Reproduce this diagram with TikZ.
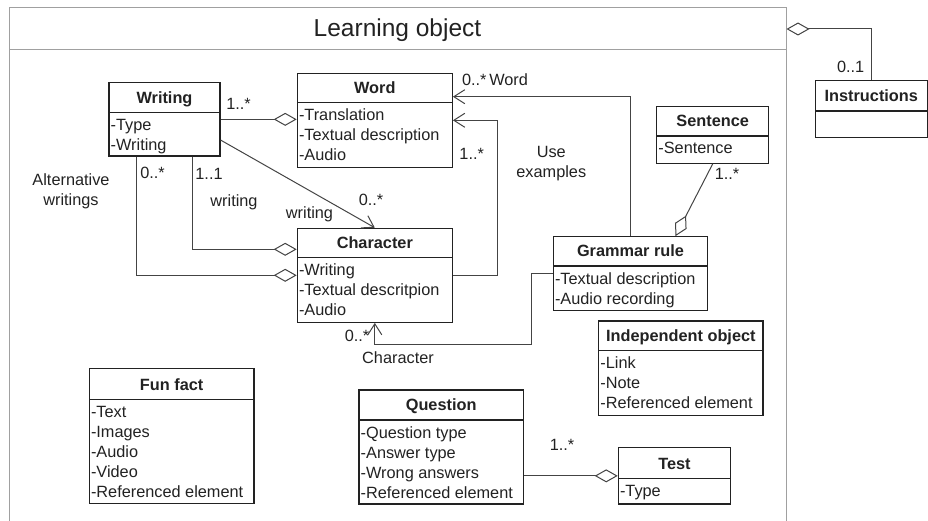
\documentclass[tikz,border=0pt]{standalone}
\usepackage{fontspec}
\setmainfont{Liberation Sans}
\usetikzlibrary{arrows.meta,fit,calc}
\definecolor{framec}{HTML}{A0A0A0}
\definecolor{boxc}{HTML}{222222}
\definecolor{connc}{HTML}{444444}
\newcommand\fs{\fontsize{16.3}{20}\selectfont}
\tikzset{
  clsbox/.style={draw=boxc, line width=1.2pt, inner sep=0pt, fill=white},
  clstitle/.style={font=\fs\bfseries, inner sep=0pt, anchor=base, text=boxc},
  attr/.style={font=\fs, inner sep=0pt, anchor=base west, text=boxc},
  lbl/.style={font=\fs, inner sep=0pt, text height=11.5pt, text depth=3.5pt, text=boxc},
  conn/.style={draw=connc, line width=1pt},
  assoc/.style={conn, -{Straight Barb[length=11pt,width=14pt,line width=1pt]}},
  agg/.style={conn, -{Diamond[length=23pt,width=13pt,fill=white,line width=1pt]}},
}
\newcommand\umlclass[8]{%
  \node[clsbox, fit={(#2,#3) (#4,#6)}] (#1) {};
  \draw[line width=1.2pt, boxc] (#2,#5) -- (#4,#5);
  \node[clstitle] (#1-title) at ({(#2+#4)/2},{#5-9.3}) {#7};
  \foreach \a [count=\i] in {#8} {\node[attr] (#1-a\i) at ({#2+1.5},{#5+18+20*(\i-1)}) {\a};}
}
\begin{document}
\begin{tikzpicture}[x=1pt,y=-1pt]
\useasboundingbox (0,0) rectangle (928,521);
% frame
\draw[framec, line width=1pt] (9,530) -- (9,8) -- (786,8) -- (786,530);
\node[draw=framec, line width=1pt, fit={(9,8) (786,50)}, inner sep=0pt] (lotitle) {};
\node[font=\fontsize{24.5}{28}\selectfont, anchor=base, inner sep=0pt, text=boxc] (lotext) at (397.5,37) {Learning object};
% classes
\umlclass{writing}{109}{82.7}{220}{112.7}{156}{Writing}{-Type,-Writing}
\umlclass{word}{297.3}{73.3}{452.3}{102.7}{167.3}{Word}{-Translation,-Textual description,-Audio}
\umlclass{character}{297.3}{228.3}{452.3}{257.7}{322.3}{Character}{-Writing,-Textual descritpion,-Audio}
\umlclass{grammar}{553.3}{236.7}{707.7}{266}{310.7}{Grammar rule}{-Textual description,-Audio recording}
\umlclass{sentence}{656.7}{106.7}{768.7}{136}{163.3}{Sentence}{-Sentence}
\umlclass{independent}{598.7}{321}{763}{350.7}{415.3}{Independent object}{-Link,-Note,-Referenced element}
\umlclass{test}{618.3}{447.7}{730.7}{478.3}{504}{Test}{-Type}
\umlclass{question}{359}{390}{523.3}{420}{504}{Question}{-Question type,-Answer type,-Wrong answers,-Referenced element}
\umlclass{funfact}{89.3}{368.7}{254}{399.3}{503.7}{Fun fact}{-Text,-Images,-Audio,-Video,-Referenced element}
\node[clsbox, fit={(815.3,80.7) (927.3,137.3)}] (instructions) {};
\draw[line width=1.2pt, boxc] (815.3,111) -- (927.3,111);
\node[clstitle] (instructions-title) at (871.3,101.7) {Instructions};
% connectors
\draw[agg] (writing.east) -- (writing.east -| word.west);
\draw[assoc] ([yshift=-20.7pt]writing.east) -- (character.north);
\draw[agg] ([xshift=28.2pt]writing.south) |- ([yshift=26pt]character.west);
\draw[agg] ([xshift=-28pt]writing.south) |- (character.west);
\draw[assoc] (character.east) -- ++(45,0) |- (word.east);
\draw[assoc] (grammar.north) |- ([yshift=23.6pt]word.east);
\draw[assoc] (grammar.west) -- ++(-21.6,0) -- ++(0,70.3) -| (character.south);
\draw[agg] (sentence.south) -- ([xshift=45pt]grammar.north);
\draw[agg] (instructions.north) |- (lotitle.east);
\draw[agg] (question.east |- test.west) -- (test.west);
% labels
\node[lbl] (l1) at (238.5,106) {1..*};
\node[lbl] (l2) at (371,202) {0..*};
\node[lbl] (l3) at (309.5,215) {writing};
\node[lbl] (l4) at (209,175.5) {1..1};
\node[lbl] (l5) at (234,203) {writing};
\node[lbl] (l6) at (152.5,175) {0..*};
\node[font=\fs, align=center, inner sep=0pt, text=boxc] (l7) at (71,191) {Alternative\\writings};
\node[lbl] (l8) at (471.7,156) {1..*};
\node[lbl] (l9) at (495,82) {0..*\,Word};
\node[font=\fs, align=center, inner sep=0pt, text=boxc] (l10) at (551.3,164) {Use\\examples};
\node[lbl] (l11) at (357,337) {0..*};
\node[lbl] (l12) at (398,359.5) {Character};
\node[lbl] (l13) at (727,176) {1..*};
\node[lbl] (l14) at (850.7,69) {0..1};
\node[lbl] (l15) at (562,446.3) {1..*};
\end{tikzpicture}
\end{document}
